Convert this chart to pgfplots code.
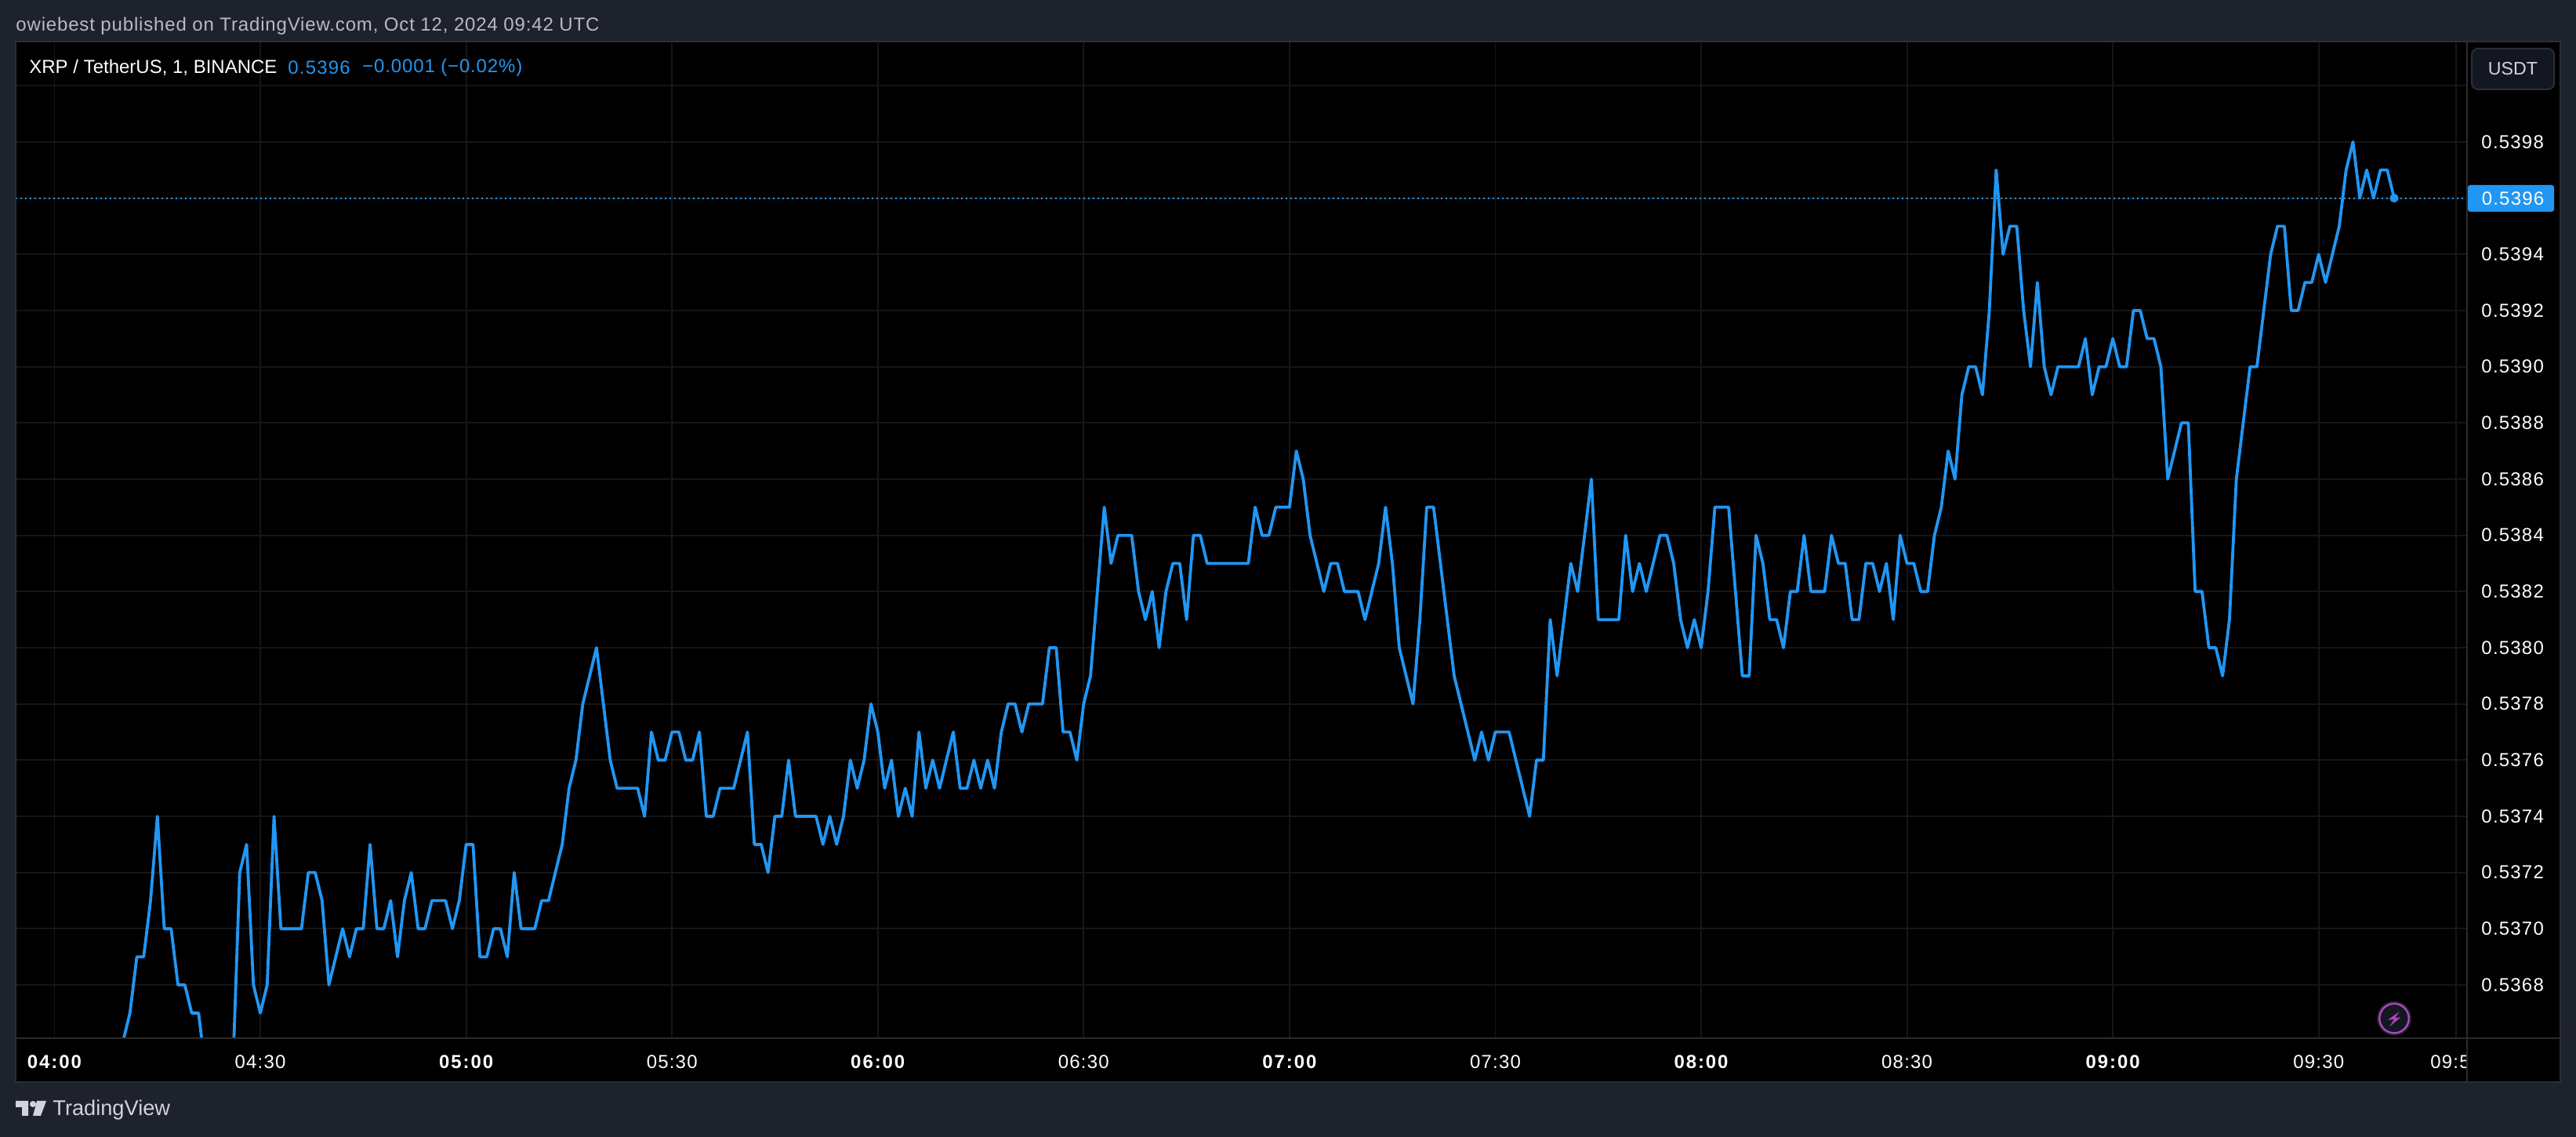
\documentclass[border=0pt]{standalone}
\usepackage{pgfplots}
\pgfplotsset{compat=1.18}
\usepackage{fontspec}
\setmainfont[LetterSpace=5]{Liberation Sans}
\newfontfamily\headfont[LetterSpace=3.5]{Liberation Sans}
\newfontfamily\plainfont{Liberation Sans}
\definecolor{outerbg}{HTML}{1E222D}
\definecolor{panel}{HTML}{131722}
\definecolor{edge}{HTML}{2A2E39}
\definecolor{axisline}{HTML}{2C2C2C}
\definecolor{gridc}{HTML}{161616}
\definecolor{tvblue}{HTML}{2196F3}
\definecolor{headtxt}{HTML}{B8BBC6}
\definecolor{lighttxt}{HTML}{D1D4DC}
\definecolor{bolt}{HTML}{AB47BC}
\newcommand{\tvfont}{\fontsize{12}{14}\selectfont}
\newcommand{\hb}[1]{{\bfseries\addfontfeature{LetterSpace=8}#1}}
\begin{document}
\begin{tikzpicture}
\path[use as bounding box] (0,0) rectangle (1643pt,725pt);
\fill[outerbg] (0,0) rectangle (1643pt,725pt);
\begin{scope}[shift={(0,725pt)},x=0.5pt,y=-0.5pt]
  \fill[black] (20,53) rectangle (3266,1380);
\end{scope}
\begin{axis}[
  at={(10pt,63pt)},anchor=south west,
  scale only axis,width=1563.5pt,height=635pt,
  xmin=-5.656,xmax=351.63,
  ymin=0.5366104,ymax=0.5401544,
  axis line style={draw=none},
  major tick length=0pt,
  grid=major,
  major grid style={draw=gridc,line width=0.9pt},
  xtick={0,30,60,90,120,150,180,210,240,270,300,330,350},
  xticklabels={\hb{04:00},04:30,\hb{05:00},05:30,\hb{06:00},06:30,\hb{07:00},07:30,\hb{08:00},08:30,\hb{09:00},09:30,09:50},
  ytick={0.5368,0.5370,0.5372,0.5374,0.5376,0.5378,0.5380,0.5382,0.5384,0.5386,0.5388,0.5390,0.5392,0.5394,0.5396,0.5398,0.5400},
  yticklabels={0.5368,0.5370,0.5372,0.5374,0.5376,0.5378,0.5380,0.5382,0.5384,0.5386,0.5388,0.5390,0.5392,0.5394,,0.5398,},
  yticklabel pos=right,
  xticklabel style={font=\tvfont,text=white,inner sep=0pt,anchor=north,yshift=-10.5pt},
  yticklabel style={font=\tvfont,text=white,inner sep=0pt,anchor=west,xshift=9pt},
  clip=true,
]
\addplot[tvblue,line width=0.9pt,dash pattern=on 1pt off 2pt,forget plot] coordinates {(-5.656,0.5396) (351.63,0.5396)};
\addplot[tvblue,line width=1.9pt,line join=round,forget plot] coordinates {
(10,.5366)(11,.5367)(12,.5369)(13,.5369)(14,.5371)(15,.5374)(16,.5370)(17,.5370)(18,.5368)(19,.5368)
(20,.5367)(21,.5367)(22,.5365)(23,.5365)(24,.5365)(25,.5365)(26,.5365)(27,.5372)(28,.5373)(29,.5368)
(30,.5367)(31,.5368)(32,.5374)(33,.5370)(34,.5370)(35,.5370)(36,.5370)(37,.5372)(38,.5372)(39,.5371)
(40,.5368)(41,.5369)(42,.5370)(43,.5369)(44,.5370)(45,.5370)(46,.5373)(47,.5370)(48,.5370)(49,.5371)
(50,.5369)(51,.5371)(52,.5372)(53,.5370)(54,.5370)(55,.5371)(56,.5371)(57,.5371)(58,.5370)(59,.5371)
(60,.5373)(61,.5373)(62,.5369)(63,.5369)(64,.5370)(65,.5370)(66,.5369)(67,.5372)(68,.5370)(69,.5370)
(70,.5370)(71,.5371)(72,.5371)(73,.5372)(74,.5373)(75,.5375)(76,.5376)(77,.5378)(78,.5379)(79,.5380)
(80,.5378)(81,.5376)(82,.5375)(83,.5375)(84,.5375)(85,.5375)(86,.5374)(87,.5377)(88,.5376)(89,.5376)
(90,.5377)(91,.5377)(92,.5376)(93,.5376)(94,.5377)(95,.5374)(96,.5374)(97,.5375)(98,.5375)(99,.5375)
(100,.5376)(101,.5377)(102,.5373)(103,.5373)(104,.5372)(105,.5374)(106,.5374)(107,.5376)(108,.5374)(109,.5374)
(110,.5374)(111,.5374)(112,.5373)(113,.5374)(114,.5373)(115,.5374)(116,.5376)(117,.5375)(118,.5376)(119,.5378)
(120,.5377)(121,.5375)(122,.5376)(123,.5374)(124,.5375)(125,.5374)(126,.5377)(127,.5375)(128,.5376)(129,.5375)
(130,.5376)(131,.5377)(132,.5375)(133,.5375)(134,.5376)(135,.5375)(136,.5376)(137,.5375)(138,.5377)(139,.5378)
(140,.5378)(141,.5377)(142,.5378)(143,.5378)(144,.5378)(145,.5380)(146,.5380)(147,.5377)(148,.5377)(149,.5376)
(150,.5378)(151,.5379)(152,.5382)(153,.5385)(154,.5383)(155,.5384)(156,.5384)(157,.5384)(158,.5382)(159,.5381)
(160,.5382)(161,.5380)(162,.5382)(163,.5383)(164,.5383)(165,.5381)(166,.5384)(167,.5384)(168,.5383)(169,.5383)
(170,.5383)(171,.5383)(172,.5383)(173,.5383)(174,.5383)(175,.5385)(176,.5384)(177,.5384)(178,.5385)(179,.5385)
(180,.5385)(181,.5387)(182,.5386)(183,.5384)(184,.5383)(185,.5382)(186,.5383)(187,.5383)(188,.5382)(189,.5382)
(190,.5382)(191,.5381)(192,.5382)(193,.5383)(194,.5385)(195,.5383)(196,.5380)(197,.5379)(198,.5378)(199,.5381)
(200,.5385)(201,.5385)(202,.5383)(203,.5381)(204,.5379)(205,.5378)(206,.5377)(207,.5376)(208,.5377)(209,.5376)
(210,.5377)(211,.5377)(212,.5377)(213,.5376)(214,.5375)(215,.5374)(216,.5376)(217,.5376)(218,.5381)(219,.5379)
(220,.5381)(221,.5383)(222,.5382)(223,.5384)(224,.5386)(225,.5381)(226,.5381)(227,.5381)(228,.5381)(229,.5384)
(230,.5382)(231,.5383)(232,.5382)(233,.5383)(234,.5384)(235,.5384)(236,.5383)(237,.5381)(238,.5380)(239,.5381)
(240,.5380)(241,.5382)(242,.5385)(243,.5385)(244,.5385)(245,.5382)(246,.5379)(247,.5379)(248,.5384)(249,.5383)
(250,.5381)(251,.5381)(252,.5380)(253,.5382)(254,.5382)(255,.5384)(256,.5382)(257,.5382)(258,.5382)(259,.5384)
(260,.5383)(261,.5383)(262,.5381)(263,.5381)(264,.5383)(265,.5383)(266,.5382)(267,.5383)(268,.5381)(269,.5384)
(270,.5383)(271,.5383)(272,.5382)(273,.5382)(274,.5384)(275,.5385)(276,.5387)(277,.5386)(278,.5389)(279,.5390)
(280,.5390)(281,.5389)(282,.5392)(283,.5397)(284,.5394)(285,.5395)(286,.5395)(287,.5392)(288,.5390)(289,.5393)
(290,.5390)(291,.5389)(292,.5390)(293,.5390)(294,.5390)(295,.5390)(296,.5391)(297,.5389)(298,.5390)(299,.5390)
(300,.5391)(301,.5390)(302,.5390)(303,.5392)(304,.5392)(305,.5391)(306,.5391)(307,.5390)(308,.5386)(309,.5387)
(310,.5388)(311,.5388)(312,.5382)(313,.5382)(314,.5380)(315,.5380)(316,.5379)(317,.5381)(318,.5386)(319,.5388)
(320,.5390)(321,.5390)(322,.5392)(323,.5394)(324,.5395)(325,.5395)(326,.5392)(327,.5392)(328,.5393)(329,.5393)
(330,.5394)(331,.5393)(332,.5394)(333,.5395)(334,.5397)(335,.5398)(336,.5396)(337,.5397)(338,.5396)(339,.5397)
(340,.5397)(341,.5396)
};
\addplot[only marks,mark=*,mark size=2.6pt,mark options={draw=tvblue,fill=tvblue},forget plot] coordinates {(341,.5396)};
\end{axis}
\begin{scope}[shift={(0,725pt)},x=0.5pt,y=-0.5pt]
  % corner cell hides the clipped tick label
  \fill[black] (3147,1325) rectangle (3265,1379);
  % pane borders
  \draw[edge,line width=1pt] (20,53) rectangle (3266,1380);
  \draw[axisline,line width=1pt] (3147,53) -- (3147,1380);
  \draw[axisline,line width=1pt] (20,1324) -- (3266,1324);
  % currency button
  \draw[edge,fill=panel,line width=1pt,rounded corners=4pt] (3153,62) rectangle (3258,114);
  \node[anchor=center,inner sep=0pt,text=lighttxt,font=\fontsize{11.6}{14}\selectfont\plainfont] at (3205.5,88) {USDT};
  % last price tag
  \fill[tvblue,rounded corners=1.5pt] (3148,236) rectangle (3258,270);
  \node[anchor=center,inner sep=0pt,text=white,font=\tvfont] at (3205.5,253) {0.5396};
  % header
  \node[anchor=west,inner sep=0pt,text=headtxt,font=\tvfont\headfont] at (20,33) {owiebest published on TradingView.com, Oct 12, 2024 09:42 UTC};
  \node[anchor=west,inner sep=0pt,text=white,font=\tvfont\plainfont] at (37,86) {XRP / TetherUS, 1, BINANCE};
  \node[anchor=west,inner sep=0pt,text=tvblue,font=\tvfont] at (367,86) {0.5396};
  \node[anchor=west,inner sep=0pt,text=tvblue,font=\tvfont\headfont] at (462,86) {−0.0001 (−0.02\%)};
  % footer logo
  \fill[lighttxt] (20,1404) -- (36,1404) -- (36,1423) -- (28,1423) -- (28,1412) -- (20,1412) -- cycle;
  \fill[lighttxt] (42,1408) circle (2pt);
  \fill[lighttxt] (47,1404) -- (59,1404) -- (52,1423) -- (42,1423) -- cycle;
  \node[anchor=west,inner sep=0pt,text=lighttxt,font=\fontsize{13.6}{15}\selectfont\plainfont] at (67,1415) {TradingView};
  % bolt icon
  \draw[outerbg,line width=0.75pt] (3054,1298.7) circle (10.6pt);
  \draw[bolt,fill=panel,line width=1.25pt] (3054,1298.7) circle (9.4pt);
  \fill[bolt] (3060.7,1290) -- (3046,1300.7) -- (3054,1300) -- (3048,1309.3) -- (3062.3,1297.3) -- (3055,1298.3) -- cycle;
\end{scope}
\end{tikzpicture}
\end{document}
